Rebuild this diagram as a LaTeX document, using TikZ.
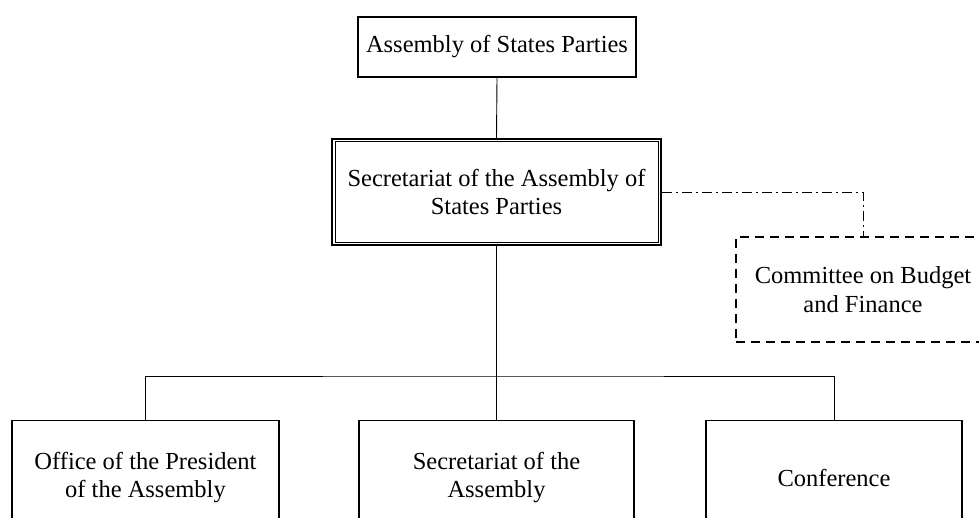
\documentclass[tikz,border=0pt]{standalone}
\usepackage{fontspec}
\setmainfont{Liberation Serif}
\begin{document}
\begin{tikzpicture}[x=1pt,y=-1pt,
  lbl/.style={font=\fontsize{24.5}{28.5}\selectfont, align=center, inner sep=0pt},
  box/.style={lbl, draw=black, line width=1.4pt},
  conn/.style={draw=black, line width=0.9pt}]
\useasboundingbox (0,0) rectangle (979,518);
\clip (0,0) rectangle (979,518);
% top box
\node[box, minimum width=278pt, minimum height=60pt] (asp) at (497,47) {Assembly of States Parties};
% secretariat (double frame)
\node[lbl, draw=black, line width=1.9pt, minimum width=329pt, minimum height=106pt] (sec) at (496.5,192) {Secretariat of the Assembly of\\States Parties};
\draw[line width=0.9pt] ([shift={(4,3)}]sec.north west) rectangle ([shift={(-4,-3)}]sec.south east);
% committee
\node[lbl, draw=black, line width=1.4pt, dash pattern=on 9pt off 6pt, minimum width=254pt, minimum height=105pt] (cbf) at (863,289.5) {Committee on Budget\\and Finance};
% bottom boxes
\node[box, anchor=north, minimum width=267pt, minimum height=114pt] (b1) at (145.5,420) {Office of the President\\of the Assembly};
\node[box, anchor=north, minimum width=275pt, minimum height=114pt] (b2) at (496.5,420) {Secretariat of the\\Assembly};
\node[box, anchor=north, minimum width=256pt, minimum height=114pt] (b3) at (834,420) {Conference};
% connectors
\coordinate (bus) at (496.5,376);
\draw[conn] (asp.south) -- (sec.north);
\draw[conn] (sec.south) -- (b2.north);
\draw[conn] (b1.north) |- (bus) -| (b3.north);
\draw[conn, dash pattern=on 10pt off 4pt on 2pt off 4pt] (sec.east) -| (cbf.north);
\end{tikzpicture}
\end{document}
